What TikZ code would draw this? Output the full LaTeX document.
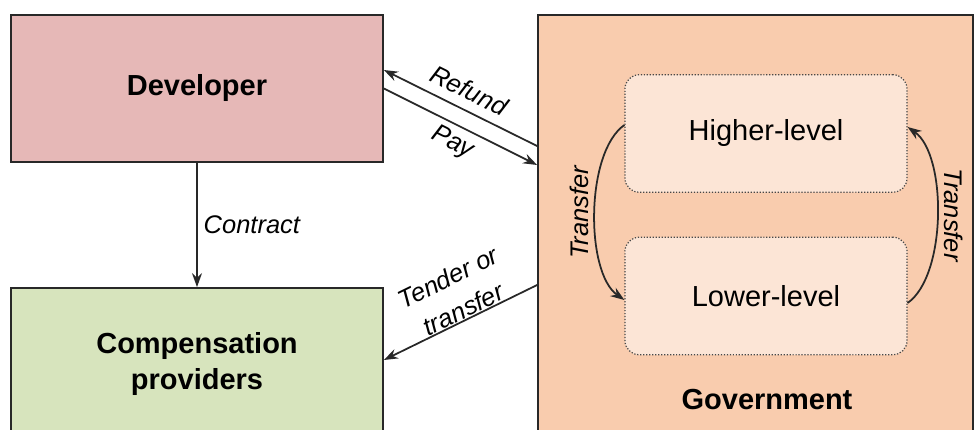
\documentclass[tikz,border=0pt]{standalone}
\usepackage{fontspec}
\setmainfont{Liberation Sans}
\definecolor{devred}{RGB}{230,184,183}
\definecolor{compgreen}{RGB}{215,228,189}
\definecolor{govpeach}{RGB}{249,204,174}
\definecolor{levelfill}{RGB}{252,229,214}
\definecolor{edge}{RGB}{40,40,40}
\usetikzlibrary{arrows.meta,calc}
\tikzset{
  party/.style={rectangle,draw=edge,line width=1pt,minimum width=7.44cm,
                align=center,font=\fontsize{16.5}{20}\selectfont\bfseries},
  flow/.style={-{Stealth[length=2.8mm,width=2mm]},line width=1pt,edge},
  flowlabel/.style={font=\fontsize{14.5}{20}\selectfont\itshape,
                    align=center,text=black},
}

\begin{document}
\begin{tikzpicture}[
    level/.style={rectangle,rounded corners=8pt,draw=edge!85,densely dotted,
                  line width=0.7pt,fill=levelfill,minimum width=5.64cm,
                  minimum height=2.35cm,font=\fontsize{16.5}{20}\selectfont},
  ]
  \useasboundingbox (0,0) rectangle (19.56,-8.6);

  \node[party,fill=devred,minimum height=2.94cm]    (dev)  at (3.94,-1.77) {Developer};
  \node[party,fill=compgreen,minimum height=3.04cm] (comp) at (3.94,-7.28) {Compensation\\providers};

  % Government and its two levels
  \node[rectangle,draw=edge,line width=1pt,fill=govpeach,
        minimum width=8.7cm,minimum height=8.5cm] (gov) at (15.11,-4.55) {};
  \node[level] (high) at (15.32,-2.67) {Higher-level};
  \node[level] (low)  at (15.32,-5.92) {Lower-level};
  \node[font=\fontsize{16.5}{20}\selectfont\bfseries] (govname) at (15.34,-8.0) {Government};

  \draw[flow] (dev) -- node[flowlabel,right] {Contract} (comp);
  \draw[flow] ([yshift=1.63cm]gov.west) -- node[flowlabel,above=2pt,sloped] {Refund} ([yshift=0.37cm]dev.east);
  \draw[flow] (dev.east) -- node[flowlabel,below,sloped] {Pay} ([yshift=1.25cm]gov.west);
  \draw[flow] ([yshift=-1.15cm]gov.west) -- node[flowlabel,above=-3pt,sloped,pos=0.45] {Tender or\\transfer} ([yshift=0.08cm]comp.east);

  \draw[flow] ([yshift=0.17cm]high.west) to[out=215,in=145,looseness=0.7]
    node[flowlabel,anchor=south,rotate=90] {Transfer} ([yshift=-0.08cm]low.west);
  \draw[flow] ([yshift=-0.14cm]low.east) to[out=35,in=-35,looseness=0.7]
    node[flowlabel,anchor=south,rotate=-90] {Transfer} ([yshift=0.13cm]high.east);
\end{tikzpicture}
\end{document}
